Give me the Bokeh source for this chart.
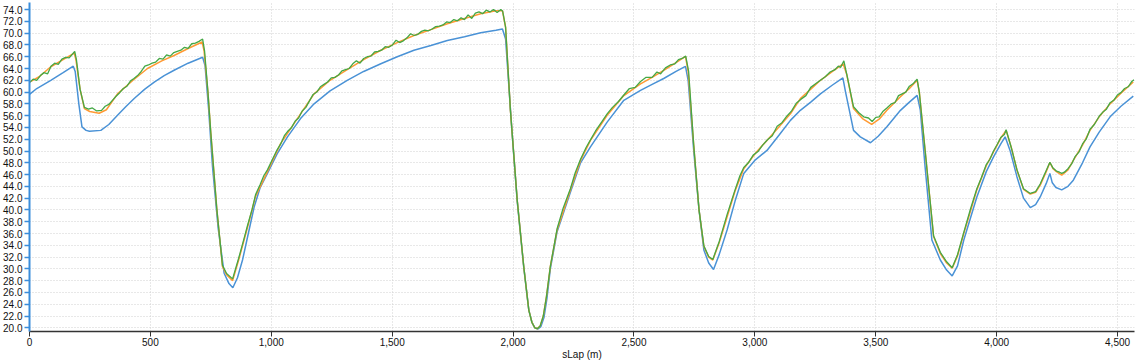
from bokeh.plotting import figure
from bokeh.models import SingleIntervalTicker, NumeralTickFormatter, FixedTicker, Range1d
from bokeh.embed import file_html
from bokeh.resources import INLINE

# ---- data (sLap in metres, speed) ----
blue_x = [0, 30, 88, 139, 181, 189, 204, 217, 234, 248, 295, 328, 364, 398, 433, 477, 516, 557, 598, 656,
          716, 726, 741, 757, 780, 805, 825, 841, 860, 881, 905, 929, 954, 984, 1024, 1067, 1121, 1177, 1243,
          1314, 1382, 1453, 1521, 1590, 1660, 1728, 1799, 1866, 1929, 1956, 1969, 1996, 2017, 2044, 2065,
          2078, 2090, 2103, 2115, 2128, 2140, 2154, 2182, 2237, 2279, 2320, 2389, 2458, 2527, 2575, 2623, 2674, 2713, 2724,
          2747, 2769, 2789, 2809, 2829, 2853, 2885, 2918, 2954, 3002, 3050, 3102, 3147, 3188, 3231, 3271,
          3321, 3364, 3375, 3408, 3436, 3478, 3510, 3546, 3602, 3639, 3671, 3684, 3704, 3732, 3767, 3793,
          3816, 3838, 3864, 3918, 3957, 3987, 4017, 4035, 4056, 4084, 4111, 4139, 4161, 4180, 4205, 4220,
          4230, 4245, 4269, 4295, 4317, 4355, 4386, 4424, 4469, 4514, 4565]
blue_y = [59.6, 60.6, 62.0, 63.3, 64.4, 63.5, 58.0, 54.1, 53.5, 53.35, 53.5, 54.5, 56.06, 57.5, 58.9, 60.5,
          61.7, 62.8, 63.7, 64.9, 65.9, 64.5, 57.0, 47.3, 37.0, 29.26, 27.5, 26.8, 28.5, 31.5, 36.0, 40.5,
          43.8, 46.2, 49.5, 52.4, 55.5, 58.0, 60.2, 62.0, 63.5, 64.8, 66.0, 67.1, 67.9, 68.75, 69.4, 70.05,
          70.5, 70.7, 69.0, 53.0, 41.5, 30.3, 23.0,
          20.9, 20.0, 19.8, 20.2, 21.8, 25.0, 30.0, 36.3, 43.0, 48.0, 50.7, 54.9,
          58.6, 60.3, 61.3, 62.3, 63.5, 64.35, 62.0, 50.1, 40.0, 33.2, 31.0, 29.9, 32.5, 36.6, 41.5, 46.2,
          48.5, 50.1, 52.8, 55.2, 56.9, 58.3, 59.7, 61.2, 62.4, 60.0, 53.5, 52.4, 51.4, 52.5, 54.1, 56.9,
          58.3, 59.45, 57.0, 47.3, 34.9, 31.5, 29.8, 28.8, 30.5, 34.9, 42.2, 46.5, 49.0, 51.2, 52.4, 50.0,
          45.6, 42.0, 40.4, 40.9, 42.2, 44.5, 46.2, 44.6, 43.8, 43.4, 44.0, 45.05, 48.0, 50.7, 53.2, 55.8,
          57.6, 59.3]

orange_x = [0, 40, 88, 139, 185, 192, 209, 227, 249, 288, 318, 364, 428, 488, 547, 598, 656, 714, 722, 738,
            750, 775, 798, 815, 840, 865, 902, 935, 984, 1039, 1067, 1121, 1177, 1243, 1314, 1382, 1453,
            1521, 1590, 1660, 1728, 1799, 1866, 1929, 1956, 1969, 1989, 2017, 2044, 2065, 2078, 2090, 2100,
            2112, 2125, 2138, 2154, 2182, 2237, 2279, 2320, 2389, 2458, 2527, 2575, 2623, 2674, 2713, 2724, 2747, 2769, 2789,
            2809, 2826, 2853, 2885, 2918, 2954, 3002, 3050, 3102, 3147, 3188, 3231, 3271, 3321, 3365, 3380,
            3408, 3445, 3483, 3514, 3546, 3602, 3639, 3671, 3680, 3704, 3739, 3767, 3793, 3816, 3838, 3864,
            3918, 3957, 3987, 4017, 4039, 4061, 4084, 4111, 4139, 4161, 4180, 4205, 4220, 4233, 4247, 4269,
            4295, 4317, 4355, 4386, 4424, 4469, 4514, 4565]
orange_y = [61.7, 62.6, 64.3, 65.5, 66.6, 65.5, 60.5, 57.2, 56.7, 56.4, 57.0, 59.7, 62.0, 64.0, 65.3, 66.2,
            67.4, 68.5, 67.0, 60.0, 53.0, 40.0, 30.4, 29.0, 28.0, 31.5, 37.1, 42.3, 46.5, 51.3, 53.0, 56.3,
            59.7, 62.0, 63.8, 65.5, 67.1, 68.4, 69.6, 70.6, 71.6, 72.5, 73.3, 73.8, 73.8, 71.0, 56.9, 41.7,
            30.4, 23.0, 20.9, 20.0, 19.85, 20.3, 22.0, 25.3, 30.4, 36.6, 43.4, 48.4, 51.8, 56.06, 59.4, 61.4, 62.5, 63.7, 65.0,
            66.05, 63.5, 51.0, 40.0, 33.8, 32.0, 31.5, 34.5, 38.8, 43.2, 47.0, 49.6, 51.8, 54.2, 56.3, 58.9,
            60.5, 62.0, 63.5, 64.8, 63.0, 57.2, 55.5, 54.5, 55.4, 56.9, 59.2, 60.6, 62.0, 60.0, 50.1, 35.5,
            32.6, 31.0, 30.1, 32.2, 36.0, 43.4, 47.5, 49.85, 52.2, 53.5, 50.5, 46.75, 43.5, 42.7, 43.0, 44.2,
            46.5, 48.05, 47.0, 46.5, 45.9, 46.8, 48.4, 51.0, 53.5, 55.8, 58.0, 59.8, 61.7]

green_x = [0, 15, 30, 45, 60, 75, 89, 104, 119, 134, 149, 164, 179, 187, 194, 209, 227, 244, 260, 278, 298,
           313, 328, 343, 358, 373, 388, 403, 418, 432, 447, 462, 477, 492, 507, 522, 537, 552, 567, 582,
           597, 611, 626, 641, 656, 671, 686, 701, 716, 724, 738, 750, 775, 798, 815, 840, 865, 885, 902,
           920, 935, 954, 969, 984, 1004, 1024, 1039, 1054, 1067, 1084, 1099, 1113, 1128, 1143, 1158, 1173,
           1188, 1203, 1218, 1233, 1248, 1263, 1278, 1292, 1307, 1322, 1337, 1352, 1367, 1382, 1397, 1412,
           1427, 1442, 1456, 1471, 1486, 1501, 1516, 1531, 1546, 1561, 1576, 1591, 1606, 1621, 1635, 1650,
           1665, 1680, 1695, 1710, 1725, 1740, 1755, 1770, 1785, 1799, 1814, 1829, 1844, 1859, 1874, 1889,
           1904, 1919, 1934, 1949, 1957, 1969, 1989, 2017, 2044, 2065, 2078, 2090, 2100, 2112, 2125, 2138,
           2154, 2182, 2207,
           2237, 2257, 2279, 2302, 2320, 2341, 2366, 2389, 2411, 2436, 2458, 2481, 2505, 2527, 2550, 2575,
           2595, 2610, 2630, 2650, 2669, 2684, 2699, 2714, 2726, 2747, 2769, 2789, 2809, 2826, 2853, 2885,
           2918, 2938, 2954, 2973, 2993, 3013, 3032, 3052, 3072, 3092, 3112, 3132, 3152, 3171, 3191, 3211,
           3231, 3251, 3271, 3291, 3311, 3331, 3345, 3355, 3368, 3380, 3408, 3430, 3450, 3470, 3485, 3500,
           3514, 3529, 3546, 3564, 3579, 3594, 3609, 3624, 3639, 3654, 3671, 3680, 3704, 3739, 3767, 3793,
           3816, 3838, 3864, 3892, 3918, 3937, 3957, 3972, 3987, 4002, 4017, 4032, 4039, 4061, 4084, 4111,
           4139, 4161, 4180, 4205, 4220, 4233, 4247, 4260, 4269, 4280, 4295, 4310, 4325, 4340, 4355, 4370,
           4386, 4404, 4424, 4439, 4454, 4469, 4484, 4499, 4514, 4529, 4544, 4559, 4568]
green_y = [61.6, 62.2, 62.0, 62.8, 63.3, 63.1, 64.4, 64.9, 64.7, 65.6, 65.9, 65.8, 66.5, 66.9, 65.5, 60.5,
           57.4, 57.1, 57.3, 56.8, 56.9, 57.6, 57.9, 58.6, 59.3, 59.9, 60.6, 61.0, 61.9, 62.3, 62.8, 63.5,
           64.4, 64.6, 64.9, 65.1, 65.7, 65.6, 66.3, 66.1, 66.7, 66.9, 67.1, 67.6, 67.4, 68.2, 68.3, 68.6,
           69.0, 67.0, 60.0, 53.0, 40.0, 30.6, 29.2, 28.3, 31.8, 34.8, 37.4, 40.0, 42.6, 44.3, 45.8, 46.8,
           48.5, 50.2, 51.2, 52.6, 53.3, 54.0, 55.1, 55.6, 56.8, 57.4, 58.5, 59.6, 60.0, 60.9, 61.3, 61.7,
           62.4, 62.5, 62.9, 63.6, 63.8, 64.0, 64.8, 65.3, 64.9, 65.7, 66.0, 66.1, 66.8, 66.9, 67.1, 67.7,
           67.6, 68.0, 68.8, 68.4, 68.7, 69.2, 69.9, 69.6, 69.8, 70.3, 70.5, 70.4, 70.7, 71.1, 71.2, 71.4,
           71.9, 71.8, 72.3, 72.1, 72.6, 72.3, 73.1, 72.5, 73.4, 73.6, 73.3, 73.9, 73.6, 74.0, 73.5, 74.0,
           73.7, 71.0, 56.9, 41.7, 30.4, 23.0, 20.9, 20.0, 19.85, 20.3, 22.0, 25.3,
           30.4, 36.8, 40.3, 43.6, 46.3, 48.6, 50.6,
           51.9, 53.4, 54.9, 56.3, 57.4, 58.4, 59.5, 60.6, 60.8, 61.8, 62.5, 62.5, 63.4, 63.1, 64.1, 64.6,
           64.8, 65.5, 65.7, 66.1, 63.5, 51.0, 40.0, 33.9, 32.1, 31.6, 34.7, 39.2, 43.4, 45.8, 47.2, 48.0,
           49.3, 49.9, 51.0, 51.9, 52.6, 54.2, 54.8, 55.9, 56.8, 58.1, 58.8, 59.4, 60.8, 61.4, 62.0, 62.6,
           63.4, 63.8, 64.4, 64.2, 65.3, 63.0, 57.5, 56.5, 55.8, 55.6, 55.0, 55.7, 55.8, 56.7, 57.3, 58.0,
           58.2, 59.4, 59.7, 60.0, 61.0, 61.4, 62.2, 60.0, 50.1, 35.6, 32.8, 31.2, 30.2, 32.4, 36.2, 40.2,
           43.6, 45.5, 47.7, 48.6, 50.0, 51.1, 52.3, 52.8, 53.6, 50.5, 46.8, 43.6, 42.8, 43.1, 44.4, 46.7,
           48.1, 47.1, 46.6, 46.4, 46.2, 46.4, 47.0, 47.8, 49.1, 49.8, 51.2, 52.0, 53.7, 54.5, 55.9, 56.6,
           57.1, 58.2, 58.6, 59.5, 59.9, 60.6, 60.9, 61.8, 62.1]

x_ticks = [0, 500, 1000, 1500, 2000, 2500, 3000, 3500, 4000, 4500]
x_label = "sLap (m)"

FONT = "Liberation Sans"
AXIS_BLUE = "#3a8ddb"

p = figure(width=1140, height=362, output_backend="svg", toolbar_location=None,
           x_range=Range1d(0, 4570), y_range=Range1d(19.37, 75.2),
           min_border_left=28, min_border_right=6, min_border_top=2, min_border_bottom=28)
p.outline_line_color = None
p.background_fill_color = "white"
p.border_fill_color = "white"

p.line(blue_x, blue_y, line_color="#4a92d6", line_width=1.5)
p.line(orange_x, orange_y, line_color="#ff9a33", line_width=1.5)
p.line(green_x, green_y, line_color="#45a845", line_width=1.3)

# x axis
xa = p.xaxis[0]
xa.ticker = FixedTicker(ticks=x_ticks)
xa.formatter = NumeralTickFormatter(format="0,0")
xa.axis_line_color = "#333333"
xa.axis_line_width = 1.5
xa.major_tick_line_color = "#333333"
xa.major_tick_out = 5
xa.major_tick_in = 0
xa.minor_tick_line_color = None
xa.major_label_text_font = FONT
xa.major_label_text_font_size = "10px"
xa.major_label_text_color = "#111111"
xa.major_label_standoff = 1
xa.axis_label = x_label
xa.axis_label_text_font = FONT
xa.axis_label_text_font_size = "10px"
xa.axis_label_text_font_style = "normal"
xa.axis_label_text_color = "#111111"
xa.axis_label_standoff = 0

# y axis
ya = p.yaxis[0]
ya.ticker = SingleIntervalTicker(interval=2, num_minor_ticks=0)
ya.formatter = NumeralTickFormatter(format="0.0")
ya.axis_line_color = AXIS_BLUE
ya.axis_line_width = 2
ya.major_tick_line_color = AXIS_BLUE
ya.major_tick_line_width = 1.5
ya.major_tick_out = 5
ya.major_tick_in = 0
ya.minor_tick_line_color = None
ya.major_label_text_font = FONT
ya.major_label_text_font_size = "10px"
ya.major_label_text_color = "#111111"
ya.major_label_standoff = 2

# grids
p.xgrid.ticker = FixedTicker(ticks=x_ticks)
p.xgrid.grid_line_color = "#d0d0d0"
p.xgrid.grid_line_dash = "1 2"
p.ygrid.grid_line_color = "#d0d0d0"
p.ygrid.grid_line_dash = "1 2"

open("out.html", "w").write(file_html(p, INLINE))
